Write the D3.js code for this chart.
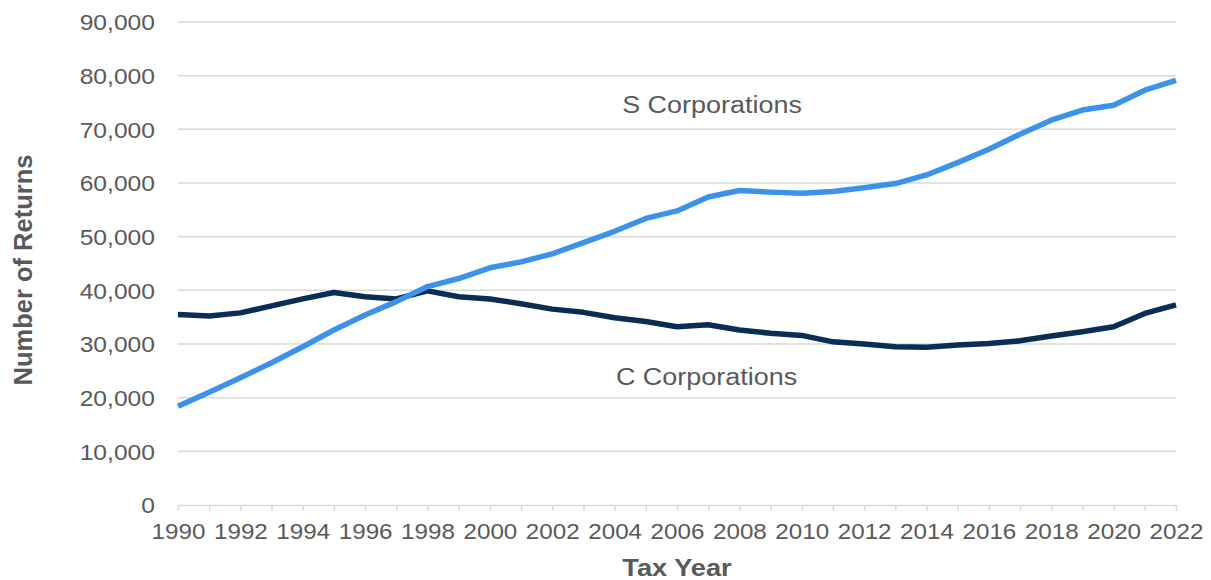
<!DOCTYPE html>
<meta charset="utf-8">
<style>
  body { margin: 0; background: #fff; }
  text { font-family: "Liberation Sans", Arial, sans-serif; fill: #595959; }
</style>
<body>
<script src="https://d3js.org/d3.v7.min.js"></script>
<script>
// tax years and number of returns
var years = d3.range(1990, 2023);
var sCorp = [18400, 21000, 23700, 26500, 29500, 32600, 35400, 37900, 40700, 42200,
             44200, 45300, 46800, 48900, 51000, 53400, 54800, 57400, 58600, 58300,
             58100, 58400, 59100, 59900, 61500, 63800, 66300, 69100, 71700, 73600,
             74500, 77300, 79100];
var cCorp = [35500, 35200, 35800, 37100, 38400, 39600, 38800, 38400, 39900, 38800,
             38400, 37500, 36500, 35900, 34900, 34200, 33200, 33600, 32600, 32000,
             31600, 30400, 30000, 29500, 29400, 29800, 30100, 30600, 31500, 32300,
             33200, 35700, 37300];
var yTicks = [0, 10000, 20000, 30000, 40000, 50000, 60000, 70000, 80000, 90000];

var W = 1211, H = 580;
var plotL = 178, plotR = 1176, plotT = 22, plotB = 505;

var svg = d3.select('body').append('svg')
    .attr('width', W).attr('height', H);

var x = d3.scaleLinear().domain([1990, 2022]).range([plotL, plotR]);
var y = d3.scaleLinear().domain([0, 90000]).range([plotB, plotT]);

// gridlines
svg.append('g').selectAll('line')
    .data(yTicks.filter(function(d) { return d > 0; }))
    .enter().append('line')
    .attr('x1', plotL).attr('x2', plotR)
    .attr('y1', function(d) { return y(d); })
    .attr('y2', function(d) { return y(d); })
    .attr('stroke', '#d9d9d9').attr('stroke-width', 1.5);

// y axis labels (text is a bit wide in the original, hence the scale)
var yAxis = svg.append('g')
    .attr('transform', 'translate(' + plotL + ',0)')
    .call(d3.axisLeft(y).tickValues(yTicks).tickSize(0)
      .tickFormat(d3.format(',')));
yAxis.select('.domain').remove();
yAxis.selectAll('text')
    .style('font-size', '22px').attr('fill', '#595959')
    .attr('x', -23 / 1.12).attr('dy', '0.36em')
    .attr('transform', 'scale(1.12,1)');

// x axis
var xAxis = svg.append('g')
    .attr('transform', 'translate(0,' + plotB + ')')
    .call(d3.axisBottom(x).tickValues(years).tickSize(6).tickPadding(12)
      .tickFormat(function(d) { return d % 2 === 0 ? d : ''; })
      .tickSizeOuter(0));
xAxis.select('.domain').attr('stroke', '#d9d9d9').attr('stroke-width', 1.5);
xAxis.selectAll('line').attr('stroke', '#d9d9d9').attr('stroke-width', 1.5);
xAxis.selectAll('text')
    .style('font-size', '22px').attr('fill', '#595959')
    .attr('transform', 'scale(1.1,1)');

// lines
var line = function(vals) {
  return d3.line()
    .x(function(d, i) { return x(years[i]); })
    .y(function(d) { return y(d); })(vals);
};

svg.append('path').attr('d', line(cCorp))
    .attr('fill', 'none').attr('stroke', '#0b2d55')
    .attr('stroke-width', 5.5).attr('stroke-linejoin', 'round');

svg.append('path').attr('d', line(sCorp))
    .attr('fill', 'none').attr('stroke', '#3b92e8')
    .attr('stroke-width', 5.5).attr('stroke-linejoin', 'round');

// series labels
svg.append('g').attr('transform', 'translate(712,112.5)')
  .append('text').attr('text-anchor', 'middle')
    .attr('transform', 'scale(1.1,1)')
    .style('font-size', '24.5px').text('S Corporations');

svg.append('g').attr('transform', 'translate(706.5,385)')
  .append('text').attr('text-anchor', 'middle')
    .attr('transform', 'scale(1.1,1)')
    .style('font-size', '24.5px').text('C Corporations');

// axis titles
svg.append('g').attr('transform', 'translate(677,576)')
  .append('text').attr('text-anchor', 'middle')
    .attr('transform', 'scale(1.11,1)')
    .style('font-size', '24.5px').style('font-weight', 'bold')
    .text('Tax Year');

svg.append('text')
    .attr('transform', 'translate(32,270) rotate(-90)')
    .attr('text-anchor', 'middle')
    .style('font-size', '25.5px').style('font-weight', 'bold')
    .text('Number of Returns');
</script>
</body>
